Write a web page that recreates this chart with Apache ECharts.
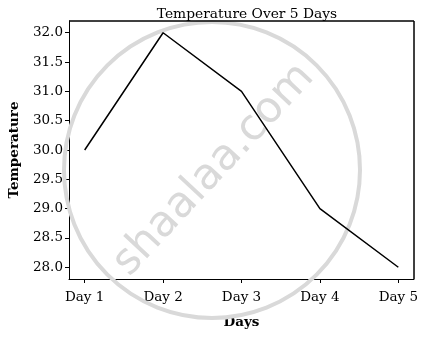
<!DOCTYPE html>
<html><head><meta charset="utf-8">
<script src="https://cdn.jsdelivr.net/npm/echarts@6/dist/echarts.min.js"></script>
<style>html,body{margin:0;padding:0;background:#fff}#c{width:425px;height:337px}</style>
</head><body><div id="c"></div>
<script>
var days = ['Day 1','Day 2','Day 3','Day 4','Day 5'];
var temps = [30, 32, 31, 29, 28];
var yTicks = [28.0, 28.5, 29.0, 29.5, 30.0, 30.5, 31.0, 31.5, 32.0];
var title = 'Temperature Over 5 Days';
var xName = 'Days', yName = 'Temperature';
var F = 'DejaVu Serif';
var chart = echarts.init(document.getElementById('c'), null, {renderer:'canvas'});
var idx = days.map(function(d,i){return i;});
chart.setOption({
  animation:false,
  title:{text:title,left:242,top:2,textAlign:'center',textStyle:{fontFamily:F,fontSize:13.8,fontWeight:'normal',color:'#000'}},
  grid:{left:69,right:11,top:21,bottom:58,containLabel:false,outerBoundsMode:'none'},
  xAxis:{type:'value',min:-0.2,max:4.2,
    name:xName,nameLocation:'middle',nameGap:36,nameTextStyle:{fontFamily:F,fontSize:13.5,fontWeight:'bold',color:'#000'},
    axisLine:{onZero:false,lineStyle:{color:'#000',width:1}},
    axisTick:{show:true,length:4,customValues:idx,lineStyle:{color:'#000'}},
    axisLabel:{customValues:idx,fontFamily:F,fontSize:13.5,color:'#000',margin:11,formatter:function(v){return days[Math.round(v)];}},
    splitLine:{show:false}},
  yAxis:{type:'value',min:27.8,max:32.2,
    name:yName,nameLocation:'middle',nameGap:48,nameTextStyle:{fontFamily:F,fontSize:13.5,fontWeight:'bold',color:'#000'},
    axisLine:{show:true,onZero:false,lineStyle:{color:'#000',width:1}},
    axisTick:{show:true,length:4,customValues:yTicks,lineStyle:{color:'#000'}},
    axisLabel:{customValues:yTicks,fontFamily:F,fontSize:13.5,color:'#000',margin:6,formatter:function(v){return v.toFixed(1);}},
    splitLine:{show:false}},
  graphic:[
    {type:'rect',shape:{x:414,y:21,width:0,height:258},style:{stroke:'#000',lineWidth:1,fill:null},z:10},
    {type:'rect',shape:{x:69,y:21,width:345,height:0},style:{stroke:'#000',lineWidth:1,fill:null},z:10},
    {type:'circle',shape:{cx:212,cy:170,r:148},style:{stroke:'#d9d9d9',lineWidth:4,fill:null},z:1,silent:true},
    {type:'text',x:214,y:170,rotation:Math.PI*47/180,style:{text:'shaalaa.com',font:'43px "DejaVu Sans"',fill:'#d9d9d9',align:'center',verticalAlign:'middle'},z:1,silent:true}
  ],
  series:[{type:'line',data:temps.map(function(t,i){return [i,t];}),showSymbol:false,lineStyle:{color:'#000',width:1.5},z:5}]
});
</script></body></html>
